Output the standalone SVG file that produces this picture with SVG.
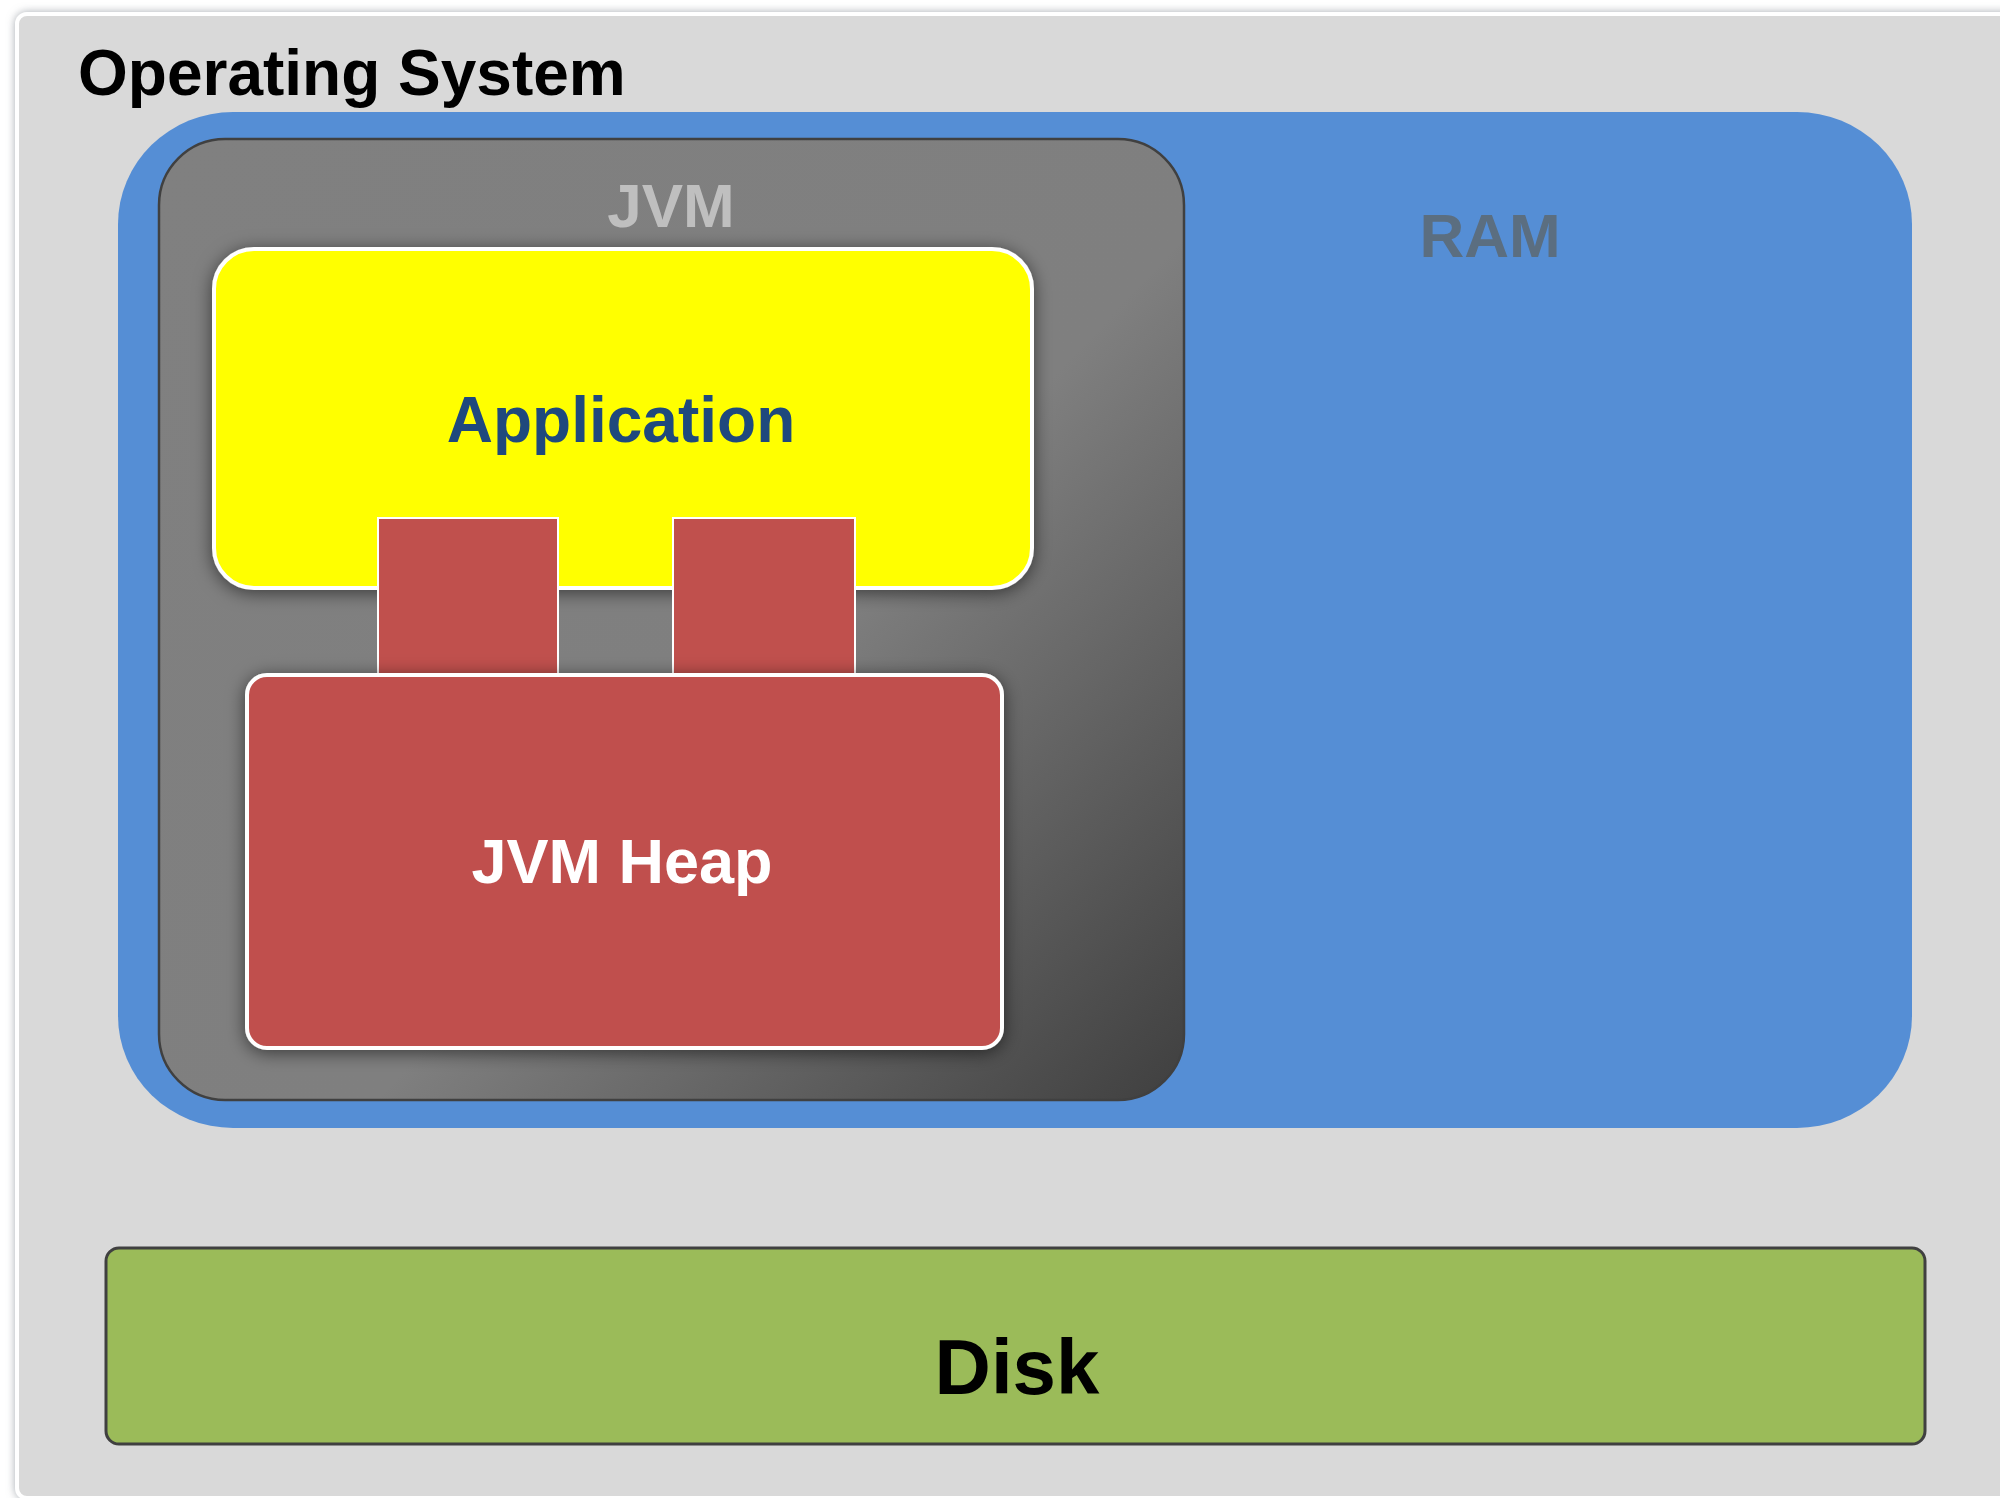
<svg xmlns="http://www.w3.org/2000/svg" width="2000" height="1498" viewBox="0 0 2000 1498">
  <defs>
    <style>
      .lbl { font-family: "Liberation Sans", Arial, sans-serif; font-weight: bold; }
      .mid { text-anchor: middle; }
    </style>
    <filter id="osShadow" x="-5%" y="-5%" width="110%" height="110%">
      <feDropShadow dx="0" dy="0" stdDeviation="4" flood-color="#808890" flood-opacity="0.7"/>
    </filter>
    <filter id="boxShadow" x="-10%" y="-10%" width="120%" height="125%">
      <feDropShadow dx="0" dy="3" stdDeviation="9" flood-color="#000" flood-opacity="0.55"/>
    </filter>
    <linearGradient id="jvmGrad" gradientUnits="userSpaceOnUse" x1="159" y1="139" x2="1185" y2="1100">
      <stop offset="0" stop-color="#808080"/>
      <stop offset="0.58" stop-color="#7f7f7f"/>
      <stop offset="1" stop-color="#3f3f3f"/>
    </linearGradient>
  </defs>

  <rect x="0" y="0" width="2000" height="1498" fill="#ffffff"/>

  <g id="os">
    <rect x="17" y="14" width="2100" height="1484" rx="10" fill="#d9d9d9" stroke="#ffffff" stroke-width="4" filter="url(#osShadow)"/>
    <text class="lbl" x="78" y="95" font-size="64" fill="#000000">Operating System</text>
  </g>

  <g id="ram">
    <rect x="118" y="112" width="1794" height="1016" rx="115" ry="112" fill="#558ed5"/>
    <text class="lbl mid" x="1490" y="257" font-size="62" fill="#5b6e80">RAM</text>
  </g>

  <g id="jvm">
    <rect x="159" y="139" width="1025" height="961" rx="66" fill="url(#jvmGrad)" stroke="#404040" stroke-width="2.5"/>
    <text class="lbl mid" x="671" y="227" font-size="62" fill="#bfbfbf">JVM</text>
  </g>

  <g id="application">
    <rect x="214" y="249" width="818" height="339" rx="40" fill="#ffff00" stroke="#ffffff" stroke-width="4" filter="url(#boxShadow)"/>
    <text class="lbl mid" x="621" y="442" font-size="64" fill="#1f497d">Application</text>
  </g>

  <g id="connectors">
    <rect x="378" y="518" width="180" height="160" fill="#c0504d" stroke="#ffffff" stroke-width="2"/>
    <rect x="673" y="518" width="182" height="160" fill="#c0504d" stroke="#ffffff" stroke-width="2"/>
  </g>

  <g id="jvm-heap">
    <rect x="247" y="675" width="755" height="373" rx="20" fill="#c0504d" stroke="#ffffff" stroke-width="4" filter="url(#boxShadow)"/>
    <text class="lbl mid" x="622" y="883" font-size="63" fill="#ffffff">JVM Heap</text>
  </g>

  <g id="disk">
    <rect x="106" y="1248" width="1819" height="196" rx="13" fill="#9bbb59" stroke="#404040" stroke-width="3"/>
    <text class="lbl mid" x="1017" y="1394" font-size="78" fill="#000000">Disk</text>
  </g>
</svg>
